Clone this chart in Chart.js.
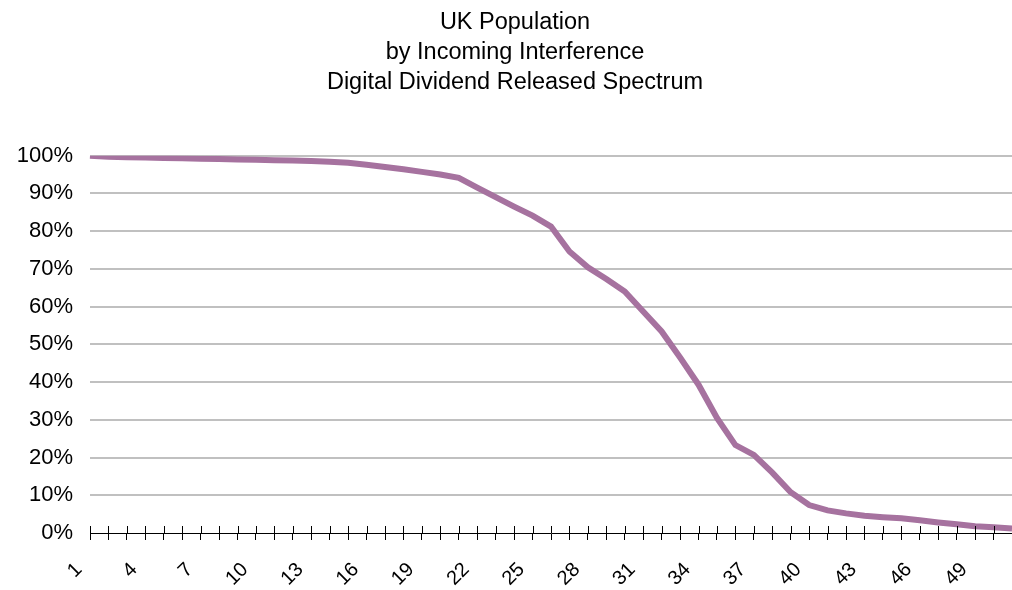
<!DOCTYPE html>
<html>
<head>
<meta charset="utf-8">
<script src="https://cdn.jsdelivr.net/npm/chart.js@4"></script>
<style>
  body { margin: 0; background: #fff; }
  #wrap { width: 1012px; height: 590px; }
</style>
</head>
<body>
<div id="wrap"><canvas id="popChart"></canvas></div>
<script>
// categories (incoming interference step)
const categories = ['1','2','3','4','5','6','7','8','9','10','11','12','13','14','15','16','17',
  '18','19','20','21','22','23','24','25','26','27','28','29','30','31','32','33','34',
  '35','36','37','38','39','40','41','42','43','44','45','46','47','48','49','50','51'];
// % of UK population
const population = [100, 99.7, 99.6, 99.5, 99.4, 99.3, 99.2, 99.1, 99.0, 98.9,
  98.8, 98.7, 98.6, 98.4, 98.1, 97.6, 97.0, 96.4, 95.7, 95.0,
  94.1, 91.5, 89.0, 86.5, 84.1, 81.2, 74.6, 70.4, 67.3, 64.0,
  58.7, 53.4, 46.5, 39.3, 30.5, 23.3, 20.7, 16.0, 10.8, 7.4,
  6.0, 5.2, 4.6, 4.2, 3.9, 3.4, 2.8, 2.3, 1.8, 1.5, 1.2];
const shownLabels = ['1','4','7','10','13','16','19','22','25','28','31','34','37','40','43','46','49'];
const titleLines = ['UK Population', 'by Incoming Interference', 'Digital Dividend Released Spectrum'];

const fontFam = '"Liberation Sans", Arial, sans-serif';

// tick marks crossing above the x axis line too
const upTicks = {
  id: 'upTicks',
  afterDraw(chart) {
    const xs = chart.scales.x;
    const c = chart.ctx;
    const yb = chart.chartArea.bottom;
    c.save();
    c.strokeStyle = '#000';
    c.lineWidth = 1;
    c.beginPath();
    xs.ticks.forEach((t, i) => {
      const px = Math.round(xs.getPixelForTick(i)) + 0.5;
      c.moveTo(px, yb - 7);
      c.lineTo(px, yb);
    });
    c.stroke();
    c.restore();
  }
};

const ctx = document.getElementById('popChart');
new Chart(ctx, {
  type: 'line',
  data: {
    labels: categories,
    datasets: [{
      label: 'Population',
      data: population,
      borderColor: '#a6729f',
      borderWidth: 6,
      pointRadius: 0,
      tension: 0,
      fill: false
    }]
  },
  options: {
    responsive: true,
    maintainAspectRatio: false,
    animation: false,
    layout: { padding: { left: 18, right: 0, top: 7, bottom: 0 } },
    plugins: {
      legend: { display: false },
      tooltip: { enabled: false },
      title: {
        display: true,
        text: titleLines,
        color: '#000',
        font: { family: fontFam, size: 23.5, weight: 'normal', lineHeight: 1.28 },
        padding: { top: 0, bottom: 58.4 }
      }
    },
    scales: {
      x: {
        offset: false,
        afterFit: s => { s.paddingRight = 0; s.height = 57; },
        grid: { drawOnChartArea: false, tickLength: 7, color: '#000' },
        border: { display: true, color: '#000', width: 1 },
        ticks: {
          autoSkip: false,
          maxRotation: 45,
          minRotation: 45,
          padding: 18,
          labelOffset: -11,
          color: '#000',
          font: { family: fontFam, size: 20 },
          callback: function(v) {
            const l = this.getLabelForValue(v);
            return shownLabels.includes(l) ? l : '';
          }
        }
      },
      y: {
        min: 0,
        max: 100,
        afterFit: s => { s.width = 72; },
        ticks: {
          stepSize: 10,
          padding: 17,
          color: '#000',
          font: { family: fontFam, size: 22 },
          callback: v => v + '%'
        },
        grid: {
          drawTicks: false,
          lineWidth: 2,
          color: c => c.tick && c.tick.value === 0 ? 'rgba(0,0,0,0)' : '#c0c0c0'
        },
        border: { display: false }
      }
    }
  },
  plugins: [upTicks]
});
</script>
</body>
</html>
